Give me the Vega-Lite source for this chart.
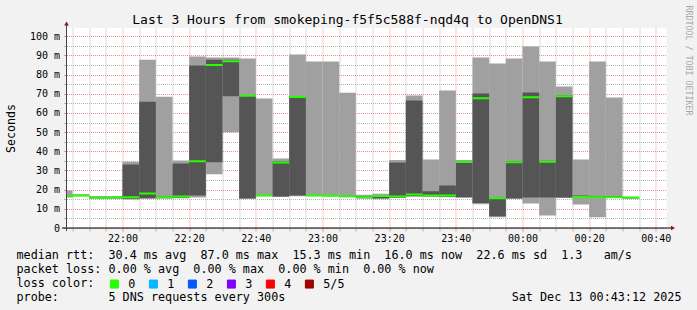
{
  "$schema": "https://vega.github.io/schema/vega-lite/v6.json",
  "width": 600,
  "height": 200,
  "autosize": {"type": "none"},
  "padding": {"left": 66.5, "top": 28, "right": 30.5, "bottom": 82},
  "background": "#f2f2f2",
  "config": {"view": {"fill": "white", "stroke": null}, "font": "DejaVu Sans Mono"},
  "title": {
    "text": "Last 3 Hours from smokeping-f5f5c588f-nqd4q to OpenDNS1",
    "font": "DejaVu Sans Mono", "fontSize": 13, "fontWeight": "normal", "color": "#000000",
    "anchor": "middle", "frame": "group", "dx": -19, "dy": 37, "offset": 5, "baseline": "alphabetic"
  },
  "datasets": {
    "smoke": [
      {"start": "2025-12-12T21:40:00Z", "end": "2025-12-12T21:45:00Z", "min": 16.0, "p2": 16.2, "median": 16.4, "p4": 16.6, "max": 19.5, "loss": "0"},
      {"start": "2025-12-12T21:45:00Z", "end": "2025-12-12T21:50:00Z", "min": 16.5, "p2": 16.7, "median": 17.0, "p4": 17.3, "max": 17.5, "loss": "0"},
      {"start": "2025-12-12T21:50:00Z", "end": "2025-12-12T21:55:00Z", "min": 15.2, "p2": 15.5, "median": 15.8, "p4": 16.1, "max": 16.7, "loss": "0"},
      {"start": "2025-12-12T21:55:00Z", "end": "2025-12-12T22:00:00Z", "min": 15.2, "p2": 15.5, "median": 15.9, "p4": 16.2, "max": 16.7, "loss": "0"},
      {"start": "2025-12-12T22:00:00Z", "end": "2025-12-12T22:05:00Z", "min": 14.9, "p2": 15.2, "median": 16.0, "p4": 33.1, "max": 34.6, "loss": "0"},
      {"start": "2025-12-12T22:05:00Z", "end": "2025-12-12T22:10:00Z", "min": 15.2, "p2": 15.5, "median": 18.0, "p4": 65.8, "max": 87.8, "loss": "0"},
      {"start": "2025-12-12T22:10:00Z", "end": "2025-12-12T22:15:00Z", "min": 15.2, "p2": 15.6, "median": 16.0, "p4": 16.4, "max": 68.5, "loss": "0"},
      {"start": "2025-12-12T22:15:00Z", "end": "2025-12-12T22:20:00Z", "min": 15.5, "p2": 15.8, "median": 16.4, "p4": 33.7, "max": 35.2, "loss": "0"},
      {"start": "2025-12-12T22:20:00Z", "end": "2025-12-12T22:25:00Z", "min": 15.9, "p2": 16.9, "median": 34.8, "p4": 84.7, "max": 89.4, "loss": "0"},
      {"start": "2025-12-12T22:25:00Z", "end": "2025-12-12T22:30:00Z", "min": 28.0, "p2": 34.3, "median": 85.0, "p4": 87.8, "max": 88.9, "loss": "0"},
      {"start": "2025-12-12T22:30:00Z", "end": "2025-12-12T22:35:00Z", "min": 49.9, "p2": 68.7, "median": 87.0, "p4": 87.8, "max": 88.9, "loss": "0"},
      {"start": "2025-12-12T22:35:00Z", "end": "2025-12-12T22:40:00Z", "min": 15.3, "p2": 15.4, "median": 69.0, "p4": 69.3, "max": 88.4, "loss": "0"},
      {"start": "2025-12-12T22:40:00Z", "end": "2025-12-12T22:45:00Z", "min": 16.6, "p2": 16.8, "median": 17.0, "p4": 17.2, "max": 67.5, "loss": "0"},
      {"start": "2025-12-12T22:45:00Z", "end": "2025-12-12T22:50:00Z", "min": 16.2, "p2": 16.4, "median": 34.2, "p4": 34.8, "max": 36.2, "loss": "0"},
      {"start": "2025-12-12T22:50:00Z", "end": "2025-12-12T22:55:00Z", "min": 16.6, "p2": 16.9, "median": 68.3, "p4": 68.9, "max": 90.5, "loss": "0"},
      {"start": "2025-12-12T22:55:00Z", "end": "2025-12-12T23:00:00Z", "min": 16.6, "p2": 16.7, "median": 16.9, "p4": 17.1, "max": 86.8, "loss": "0"},
      {"start": "2025-12-12T23:00:00Z", "end": "2025-12-12T23:05:00Z", "min": 16.6, "p2": 16.7, "median": 16.8, "p4": 17.0, "max": 86.8, "loss": "0"},
      {"start": "2025-12-12T23:05:00Z", "end": "2025-12-12T23:10:00Z", "min": 16.0, "p2": 16.3, "median": 16.6, "p4": 16.8, "max": 70.5, "loss": "0"},
      {"start": "2025-12-12T23:10:00Z", "end": "2025-12-12T23:15:00Z", "min": 15.2, "p2": 15.6, "median": 16.1, "p4": 16.5, "max": 17.4, "loss": "0"},
      {"start": "2025-12-12T23:15:00Z", "end": "2025-12-12T23:20:00Z", "min": 15.0, "p2": 15.5, "median": 16.7, "p4": 17.2, "max": 17.8, "loss": "0"},
      {"start": "2025-12-12T23:20:00Z", "end": "2025-12-12T23:25:00Z", "min": 15.6, "p2": 15.8, "median": 16.4, "p4": 34.1, "max": 35.5, "loss": "0"},
      {"start": "2025-12-12T23:25:00Z", "end": "2025-12-12T23:30:00Z", "min": 16.4, "p2": 16.6, "median": 17.5, "p4": 66.5, "max": 69.1, "loss": "0"},
      {"start": "2025-12-12T23:30:00Z", "end": "2025-12-12T23:35:00Z", "min": 16.2, "p2": 16.6, "median": 17.0, "p4": 19.1, "max": 35.7, "loss": "0"},
      {"start": "2025-12-12T23:35:00Z", "end": "2025-12-12T23:40:00Z", "min": 16.0, "p2": 16.3, "median": 17.0, "p4": 22.1, "max": 71.7, "loss": "0"},
      {"start": "2025-12-12T23:40:00Z", "end": "2025-12-12T23:45:00Z", "min": 15.8, "p2": 16.0, "median": 34.4, "p4": 34.9, "max": 35.5, "loss": "0"},
      {"start": "2025-12-12T23:45:00Z", "end": "2025-12-12T23:50:00Z", "min": 12.4, "p2": 13.0, "median": 67.7, "p4": 70.1, "max": 88.9, "loss": "0"},
      {"start": "2025-12-12T23:50:00Z", "end": "2025-12-12T23:55:00Z", "min": 5.6, "p2": 6.1, "median": 15.5, "p4": 15.8, "max": 85.8, "loss": "0"},
      {"start": "2025-12-12T23:55:00Z", "end": "2025-12-13T00:00:00Z", "min": 15.2, "p2": 15.4, "median": 34.3, "p4": 34.9, "max": 88.4, "loss": "0"},
      {"start": "2025-12-13T00:00:00Z", "end": "2025-12-13T00:05:00Z", "min": 12.8, "p2": 15.9, "median": 68.2, "p4": 70.6, "max": 94.6, "loss": "0"},
      {"start": "2025-12-13T00:05:00Z", "end": "2025-12-13T00:10:00Z", "min": 6.5, "p2": 15.9, "median": 34.6, "p4": 35.1, "max": 86.8, "loss": "0"},
      {"start": "2025-12-13T00:10:00Z", "end": "2025-12-13T00:15:00Z", "min": 15.7, "p2": 15.9, "median": 68.7, "p4": 69.2, "max": 73.8, "loss": "0"},
      {"start": "2025-12-13T00:15:00Z", "end": "2025-12-13T00:20:00Z", "min": 12.2, "p2": 15.9, "median": 16.2, "p4": 17.0, "max": 35.7, "loss": "0"},
      {"start": "2025-12-13T00:20:00Z", "end": "2025-12-13T00:25:00Z", "min": 5.6, "p2": 15.9, "median": 16.0, "p4": 16.6, "max": 86.8, "loss": "0"},
      {"start": "2025-12-13T00:25:00Z", "end": "2025-12-13T00:30:00Z", "min": 15.8, "p2": 15.9, "median": 16.0, "p4": 16.5, "max": 68.0, "loss": "0"},
      {"start": "2025-12-13T00:30:00Z", "end": "2025-12-13T00:35:00Z", "min": 15.3, "p2": 15.5, "median": 15.9, "p4": 16.0, "max": 16.2, "loss": "0"}
    ]
  },
  "data": {"name": "smoke"},
  "resolve": {"axis": {"x": "independent", "y": "independent"}},
  "layer": [
    {
      "mark": {"type": "rect", "color": "#a0a0a0", "clip": true},
      "encoding": {
        "x": {
          "field": "start", "type": "temporal",
          "scale": {"type": "utc", "domain": [1765575792000, 1765586592000]},
          "axis": {
            "values": [1765575900000, 1765576200000, 1765576500000, 1765576800000, 1765577100000, 1765577400000, 1765577700000, 1765578000000, 1765578300000, 1765578600000, 1765578900000, 1765579200000, 1765579500000, 1765579800000, 1765580100000, 1765580400000, 1765580700000, 1765581000000, 1765581300000, 1765581600000, 1765581900000, 1765582200000, 1765582500000, 1765582800000, 1765583100000, 1765583400000, 1765583700000, 1765584000000, 1765584300000, 1765584600000, 1765584900000, 1765585200000, 1765585500000, 1765585800000, 1765586100000, 1765586400000],
            "labelExpr": "utcminutes(datum.value) % 20 === 0 ? utcFormat(datum.value, '%H:%M') : ''",
            "labelFont": "DejaVu Sans Mono", "labelFontSize": 10, "labelColor": "#000000",
            "labelPadding": 2, "labelOverlap": false, "labelFlush": false, "labelBound": false,
            "domain": false,
            "grid": true, "gridDash": [1, 1], "gridWidth": 1,
            "gridColor": {"condition": {"test": "utcminutes(datum.value) % 20 === 0", "value": "#e89090"}, "value": "#b4b4b4"},
            "ticks": true, "tickSize": 3,
            "tickColor": {"condition": {"test": "utcminutes(datum.value) % 20 === 0", "value": "#e89090"}, "value": "#b4b4b4"},
            "title": [
              "median\u00a0rtt:\u00a0\u00a030.4\u00a0ms\u00a0avg\u00a0\u00a087.0\u00a0ms\u00a0max\u00a0\u00a015.3\u00a0ms\u00a0min\u00a0\u00a016.0\u00a0ms\u00a0now\u00a0\u00a022.6\u00a0ms\u00a0sd\u00a0\u00a01.3\u00a0\u00a0\u00a0am/s",
              "packet\u00a0loss:\u00a00.00\u00a0%\u00a0avg\u00a0\u00a00.00\u00a0%\u00a0max\u00a0\u00a00.00\u00a0%\u00a0min\u00a0\u00a00.00\u00a0%\u00a0now",
              "loss\u00a0color:",
              "probe:\u00a0\u00a0\u00a0\u00a0\u00a0\u00a0\u00a05\u00a0DNS\u00a0requests\u00a0every\u00a0300s\u00a0\u00a0\u00a0\u00a0\u00a0\u00a0\u00a0\u00a0\u00a0\u00a0\u00a0\u00a0\u00a0\u00a0\u00a0\u00a0\u00a0\u00a0\u00a0\u00a0\u00a0\u00a0\u00a0\u00a0\u00a0\u00a0\u00a0\u00a0\u00a0\u00a0\u00a0\u00a0Sat\u00a0Dec\u00a013\u00a000:43:12\u00a02025"
            ],
            "titleFont": "DejaVu Sans Mono", "titleFontSize": 11.75, "titleFontWeight": "normal", "titleColor": "#000000",
            "titleAlign": "left", "titleAngle": 0, "titleBaseline": "alphabetic",
            "titleX": -50.5, "titleY": 30.5, "titleLineHeight": 14
          }
        },
        "x2": {"field": "end"},
        "y": {
          "field": "min", "type": "quantitative",
          "scale": {"domain": [0, 104.3], "nice": false, "zero": false},
          "axis": {
            "values": [0, 5, 10, 15, 20, 25, 30, 35, 40, 45, 50, 55, 60, 65, 70, 75, 80, 85, 90, 95, 100],
            "labelExpr": "datum.value % 10 === 0 ? (datum.value === 0 ? '0' : datum.value + ' m') : ''",
            "labelFont": "DejaVu Sans Mono", "labelFontSize": 10, "labelColor": "#000000",
            "labelPadding": 4, "labelOverlap": false, "labelBound": false,
            "domain": false,
            "grid": true, "gridDash": [1, 1], "gridWidth": 1,
            "gridColor": {"condition": {"test": "datum.value % 10 === 0", "value": "#e89090"}, "value": "#b4b4b4"},
            "ticks": true, "tickSize": 3,
            "tickColor": {"condition": {"test": "datum.value % 10 === 0", "value": "#e89090"}, "value": "#b4b4b4"},
            "title": "Seconds", "titleFont": "DejaVu Sans Mono", "titleFontSize": 11.6, "titleFontWeight": "normal",
            "titleColor": "#000000", "titleAngle": -90, "titleAlign": "center", "titleBaseline": "middle",
            "titleX": -55.5, "titleY": 100
          }
        },
        "y2": {"field": "max"}
      }
    },
    {
      "mark": {"type": "rect", "color": "#555555", "clip": true},
      "encoding": {
        "x": {"field": "start", "type": "temporal", "axis": null},
        "x2": {"field": "end"},
        "y": {
          "field": "p2", "type": "quantitative",
          "scale": {"domain": [0, 104.3], "nice": false, "zero": false},
          "axis": {
            "orient": "right", "labels": false, "ticks": false, "domain": false, "grid": false,
            "title": "RRDTOOL / TOBI OETIKER", "titleFont": "DejaVu Sans Mono", "titleFontSize": 8.3,
            "titleFontWeight": "normal", "titleColor": "#a8a8a8", "titleAngle": 90,
            "titleAlign": "center", "titleBaseline": "middle",
            "titleX": 21, "titleY": 32
          }
        },
        "y2": {"field": "p4"}
      }
    },
    {
      "mark": {"type": "rule", "strokeWidth": 2, "clip": true},
      "encoding": {
        "x": {"field": "start", "type": "temporal", "axis": null},
        "x2": {"field": "end"},
        "y": {"field": "median", "type": "quantitative", "axis": null, "scale": {"domain": [0, 104.3], "nice": false, "zero": false}},
        "color": {
          "field": "loss", "type": "nominal",
          "scale": {"domain": ["0", "1", "2", "3", "4", "5/5"], "range": ["#26ff00", "#00b8ff", "#0059ff", "#7e00ff", "#ff0000", "#a00000"]},
          "legend": {
            "orient": "none", "legendX": 42, "legendY": 250, "direction": "horizontal", "title": null,
            "symbolType": "square", "symbolSize": 64, "symbolStrokeWidth": 1,
            "labelFont": "DejaVu Sans Mono", "labelFontSize": 11.75,
            "labelColor": "#000000", "labelOffset": 8, "columnPadding": 11,
            "encode": {"symbols": {"update": {"fill": {"scale": "color", "field": "value"}, "stroke": {"value": "#000000"}, "strokeWidth": {"value": 1}, "fillOpacity": {"value": 1}}}}
          }
        }
      }
    },
    {
      "data": {"values": [{}]},
      "mark": {"type": "rule", "color": "#000000", "strokeWidth": 1, "clip": false},
      "encoding": {
        "x": {"datum": 1765575710000, "type": "temporal", "axis": null},
        "x2": {"datum": 1765586680000},
        "y": {"datum": 0, "type": "quantitative", "axis": null}
      }
    },
    {
      "data": {"values": [{}]},
      "mark": {"type": "rule", "color": "#444444", "strokeWidth": 1, "clip": false},
      "encoding": {
        "x": {"datum": 1765575792000, "type": "temporal", "axis": null},
        "y": {"datum": -1.6, "type": "quantitative", "axis": null},
        "y2": {"datum": 106}
      }
    },
    {
      "data": {"values": [{}]},
      "mark": {"type": "point", "shape": "triangle-up", "filled": true, "color": "#801f1f", "size": 22, "opacity": 1, "clip": false},
      "encoding": {
        "x": {"datum": 1765575792000, "type": "temporal", "axis": null},
        "y": {"datum": 106.6, "type": "quantitative", "axis": null}
      }
    },
    {
      "data": {"values": [{}]},
      "mark": {"type": "point", "shape": "triangle-right", "filled": true, "color": "#801f1f", "size": 22, "opacity": 1, "clip": false},
      "encoding": {
        "x": {"datum": 1765586710000, "type": "temporal", "axis": null},
        "y": {"datum": 0, "type": "quantitative", "axis": null}
      }
    }
  ]
}
